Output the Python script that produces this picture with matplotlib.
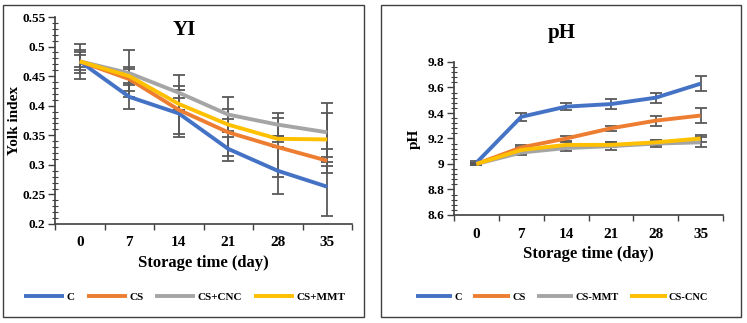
import numpy as np
import matplotlib
matplotlib.use('Agg')
import matplotlib.pyplot as plt
from matplotlib.patches import Rectangle
from matplotlib.ticker import MultipleLocator, FuncFormatter

plt.rcParams['font.family'] = ['Liberation Serif', 'DejaVu Serif']
plt.rcParams['font.weight'] = 'bold'

days = ['0', '7', '14', '21', '28', '35']
colors = ['#4472C4', '#ED7D31', '#A5A5A5', '#FFC000']

# yolk index
yi_names = ['C', 'CS', 'CS+CNC', 'CS+MMT']
yi_c = [0.475, 0.415, 0.387, 0.327, 0.290, 0.263]
yi_cs = [0.475, 0.445, 0.393, 0.355, 0.330, 0.307]
yi_cnc = [0.475, 0.455, 0.422, 0.385, 0.368, 0.355]
yi_mmt = [0.475, 0.450, 0.403, 0.368, 0.344, 0.343]
yi_err_c = [0.030, 0.020, 0.040, 0.020, 0.040, 0.050]
yi_err_cs = [0.020, 0.020, 0.040, 0.040, 0.050, 0.020]
yi_err_cnc = [0.015, 0.040, 0.030, 0.030, 0.020, 0.050]
yi_err_mmt = [0.010, 0.012, 0.010, 0.010, 0.005, 0.045]

# pH
ph_names = ['C', 'CS', 'CS-MMT', 'CS-CNC']
ph_c = [9.01, 9.37, 9.45, 9.47, 9.52, 9.63]
ph_cs = [9.00, 9.13, 9.20, 9.28, 9.34, 9.38]
ph_mmt = [9.00, 9.09, 9.125, 9.14, 9.16, 9.17]
ph_cnc = [9.00, 9.11, 9.15, 9.15, 9.17, 9.20]
ph_err_c = [0.01, 0.03, 0.03, 0.04, 0.04, 0.06]
ph_err_cs = [0.01, 0.02, 0.02, 0.02, 0.04, 0.06]
ph_err_mmt = [0.01, 0.02, 0.02, 0.03, 0.03, 0.04]
ph_err_cnc = [0.01, 0.02, 0.02, 0.02, 0.02, 0.03]

W, H = 747, 323
fig = plt.figure(figsize=(W / 100, H / 100), dpi=100)


def px_axes(x0, x1, ytop, ybot):
    return fig.add_axes([x0 / W, 1 - ybot / H, (x1 - x0) / W, (ybot - ytop) / H])


def panel(ax, series, errs, names, ylim, major, minor, ylabel):
    x = np.arange(len(days))
    for vals, err, c, n in zip(series, errs, colors, names):
        ax.errorbar(x, vals, yerr=err, fmt='none', ecolor='#595959',
                    elinewidth=1.3, capsize=4, capthick=1.3, zorder=2)
        ax.plot(x, vals, color=c, lw=2.8, label=n, zorder=3,
                solid_capstyle='butt')
    ax.set_xlim(-0.5, len(days) - 0.5)
    ax.set_ylim(*ylim)
    ax.set_xticks(x)
    ax.set_xticklabels(days)
    ax.set_xticks(np.arange(len(days) + 1) - 0.5, minor=True)
    ax.tick_params(axis='x', which='major', length=0, pad=9, labelsize=11)
    ax.tick_params(axis='x', which='minor', length=4, width=1, color='#404040')
    ax.yaxis.set_major_locator(MultipleLocator(major))
    ax.yaxis.set_minor_locator(MultipleLocator(minor))
    ax.yaxis.set_major_formatter(FuncFormatter(lambda v, p: '{:g}'.format(round(v, 3))))
    ax.tick_params(axis='y', which='major', length=5, width=1, pad=2,
                   color='#404040', labelsize=9.5)
    ax.tick_params(axis='y', which='minor', length=4, width=0.8,
                   direction='inout', color='#404040')
    for s in ['top', 'right']:
        ax.spines[s].set_visible(False)
    for s in ['left', 'bottom']:
        ax.spines[s].set_color('#404040')
        ax.spines[s].set_linewidth(1.2)
    ax.set_xlabel('Storage time (day)', fontsize=12, fontweight='bold',
                  labelpad=4)
    ax.set_ylabel(ylabel, fontsize=11, fontweight='bold')


ax1 = px_axes(55, 352, 17, 224)
panel(ax1, [yi_c, yi_cs, yi_cnc, yi_mmt],
      [yi_err_c, yi_err_cs, yi_err_cnc, yi_err_mmt], yi_names,
      (0.2, 0.55), 0.05, 0.01, 'Yolk index')
ax1.yaxis.set_label_coords(-0.115, 0.5)

ax2 = px_axes(454, 723, 62, 215)
panel(ax2, [ph_c, ph_cs, ph_mmt, ph_cnc],
      [ph_err_c, ph_err_cs, ph_err_mmt, ph_err_cnc], ph_names,
      (8.6, 9.8), 0.2, 0.04, 'pH')
ax2.yaxis.set_label_coords(-0.123, 0.5)

# panel frames
for x0, x1 in [(3, 364), (381, 741)]:
    fig.patches.append(Rectangle((x0 / W, 1 - 317 / H), (x1 - x0) / W, 312 / H,
                                 transform=fig.transFigure, fill=False,
                                 edgecolor='#404040', lw=1.0))

fig.text(184 / W, 1 - 30 / H, 'YI', ha='center', va='center', fontsize=15,
         fontweight='bold')
fig.text(562 / W, 1 - 33 / H, 'pH', ha='center', va='center', fontsize=15,
         fontweight='bold')

for ax, cx, fs, hl in [(ax1, 185, 8, 3.6), (ax2, 562, 7.5, 3.5)]:
    h, l = ax.get_legend_handles_labels()
    fig.legend(h, l, loc='center', bbox_to_anchor=(cx / W, 1 - 297 / H),
               ncol=4, frameon=False, handlelength=hl, handletextpad=0.2,
               columnspacing=1.1, prop={'size': fs, 'weight': 'bold'})

fig.savefig('out.png', dpi=100)
